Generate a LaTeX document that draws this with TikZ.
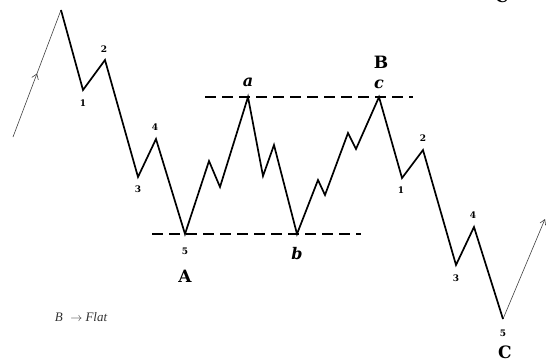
\documentclass[tikz,border=0pt]{standalone}
\usepackage{fontspec}
\setmainfont{DejaVu Serif}
\newfontfamily\notefont{Liberation Serif}
\usetikzlibrary{arrows.meta,decorations.markings}
\begin{document}
\begin{tikzpicture}[x=1pt,y=-1pt,
  wave/.style={line width=1.7pt,line join=miter,black},
  level/.style={line width=1.8pt,dash pattern=on 11pt off 6pt},
  thin/.style={line width=0.6pt,black!75},
  dig/.style={font=\bfseries\fontsize{9}{9}\selectfont,inner sep=0pt},
  big/.style={font=\bfseries\fontsize{17}{17}\selectfont,inner sep=0pt},
  sub/.style={font=\bfseries\itshape\fontsize{16}{16}\selectfont,inner sep=0pt}]
\useasboundingbox (0,0) rectangle (547,362);
% points
\coordinate (s0) at (13,137);
\coordinate (p0) at (61,10);
\coordinate (w1) at (83,90);
\coordinate (w2) at (105,60);
\coordinate (w3) at (138,177);
\coordinate (w4) at (156,139);
\coordinate (wA) at (185,234);
\coordinate (x1) at (209,161);
\coordinate (x2) at (220,187);
\coordinate (wa) at (248,97);
\coordinate (x3) at (263,176);
\coordinate (x4) at (274,145);
\coordinate (wb) at (297,234);
\coordinate (x5) at (318,180);
\coordinate (x6) at (325,195);
\coordinate (x7) at (348,133);
\coordinate (x8) at (356,149);
\coordinate (wc) at (379,97);
\coordinate (v1) at (402,178);
\coordinate (v2) at (423,150);
\coordinate (v3) at (456,265);
\coordinate (v4) at (474,227);
\coordinate (wC) at (503,319);
\coordinate (e1) at (545,219);
\coordinate (dt1) at (205,97);
\coordinate (dt2) at (413,97);
\coordinate (db1) at (152,234);
\coordinate (db2) at (361,234);
% dashed levels
\draw[level] (dt1) -- (dt2);
\draw[level] (db1) -- (db2);
% thin arrows
\draw[thin,postaction={decorate},decoration={markings,mark=at position 0.5 with {\arrow{Straight Barb[length=5pt,width=7pt]}}}] (s0) -- (p0);
\draw[thin,-{Straight Barb[length=5pt,width=6pt]}] (wC) -- (e1);
% wave
\draw[wave] (p0) -- (w1) -- (w2) -- (w3) -- (w4) -- (wA) -- (x1) -- (x2) -- (wa) -- (x3) -- (x4) -- (wb) -- (x5) -- (x6) -- (x7) -- (x8) -- (wc) -- (v1) -- (v2) -- (v3) -- (v4) -- (wC);
% labels
\node[dig] (l1) at (83,103) {1};
\node[dig] (l2) at (104,49) {2};
\node[dig] (l3) at (138,189) {3};
\node[dig] (l4) at (155,127) {4};
\node[dig] (l5) at (185,251) {5};
\node[big] (lA) at (185,276) {A};
\node[sub] (la) at (248,82) {a};
\node[sub] (lb) at (297,254) {b};
\node[sub] (lc) at (379,84) {c};
\node[big] (lB) at (381,62) {B};
\node[dig] (r1) at (401,190) {1};
\node[dig] (r2) at (423,138) {2};
\node[dig] (r3) at (456,278) {3};
\node[dig] (r4) at (473,215) {4};
\node[dig] (r5) at (503,333) {5};
\node[big] (lC) at (505,352) {C};
\node[big] (lCtop) at (502,-4) {C};
\node[font=\notefont\itshape\fontsize{13}{13}\selectfont,text=black!80,inner sep=0pt] (note) at (81,317) {B\,\, $\rightarrow$ Flat};
\end{tikzpicture}
\end{document}
